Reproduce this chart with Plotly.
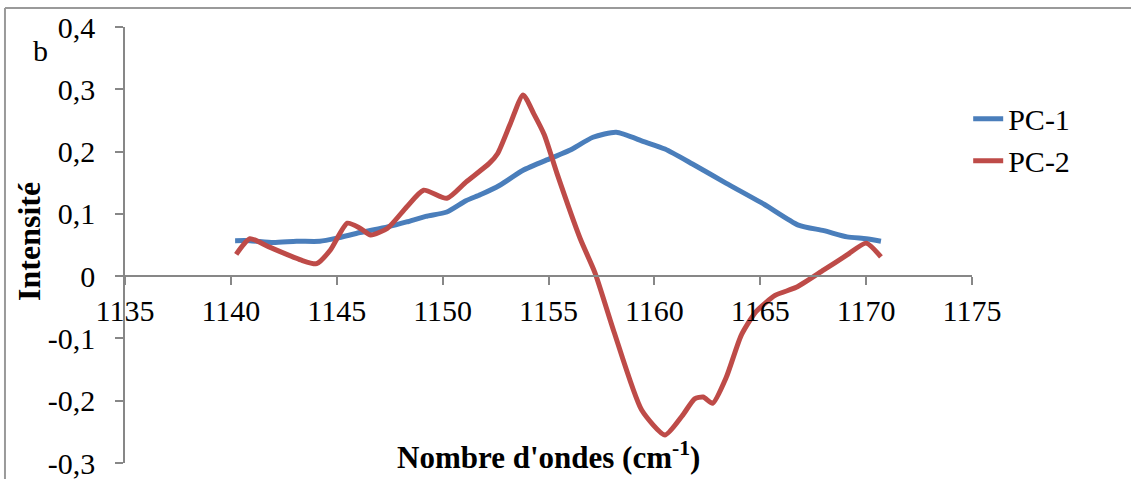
import plotly.graph_objects as go

# Wavenumber grid and loadings of the first two principal components
pc1_x = [1140.2, 1140.9, 1142.0, 1143.1, 1144.2, 1145.0, 1146.1, 1147.4, 1148.3,
         1149.2, 1150.2, 1151.1, 1151.8, 1152.7, 1153.8, 1155.1, 1156.0, 1157.1,
         1158.2, 1159.5, 1160.5, 1161.8, 1163.4, 1165.2, 1166.8, 1168.0, 1169.1,
         1170.0, 1170.7]
pc1_y = [0.057, 0.057, 0.054, 0.056, 0.056, 0.061, 0.070, 0.079, 0.087,
         0.096, 0.103, 0.121, 0.131, 0.146, 0.170, 0.189, 0.202, 0.223,
         0.231, 0.216, 0.204, 0.180, 0.149, 0.115, 0.082, 0.073, 0.063,
         0.060, 0.056]

pc2_x = [1140.25, 1140.9, 1141.8, 1143.3, 1144.05, 1144.7, 1145.5, 1146.1, 1146.6,
         1147.4, 1148.3, 1149.1, 1150.2, 1151.1, 1152.2, 1152.6, 1153.2, 1153.8,
         1154.3, 1154.8, 1155.4, 1156.5, 1157.2, 1158.1, 1159.4, 1160.5, 1161.3,
         1161.9, 1162.3, 1162.75, 1163.4, 1164.1, 1164.8, 1165.7, 1166.7, 1168.0,
         1169.1, 1170.0, 1170.7]
pc2_y = [0.035, 0.060, 0.047, 0.026, 0.020, 0.042, 0.085, 0.077, 0.066,
         0.077, 0.111, 0.138, 0.125, 0.151, 0.181, 0.197, 0.245, 0.291,
         0.261, 0.227, 0.165, 0.060, 0.005, -0.090, -0.215, -0.255, -0.225,
         -0.197, -0.194, -0.204, -0.162, -0.095, -0.057, -0.031, -0.018, 0.010,
         0.034, 0.053, 0.031]

series_names = ["PC-1", "PC-2"]
x_range = [1135, 1175]
y_range = [-0.3, 0.4]
y_tick_vals = [-0.3, -0.2, -0.1, 0, 0.1, 0.2, 0.3, 0.4]
y_tick_text = ["-0,3", "-0,2", "-0,1", "0", "0,1", "0,2", "0,3", "0,4"]

SERIF = "Liberation Serif, Times New Roman, serif"
AXIS_GREY = "#878787"

fig = go.Figure()
fig.add_trace(go.Scatter(x=pc1_x, y=pc1_y, name=series_names[0], mode="lines",
                         line=dict(color="#4A7EBB", width=5, shape="spline", smoothing=0.6)))
fig.add_trace(go.Scatter(x=pc2_x, y=pc2_y, name=series_names[1], mode="lines",
                         line=dict(color="#BE4B48", width=5, shape="spline", smoothing=0.6)))

# x axis crosses the y axis at zero
zero_pos = (0 - y_range[0]) / (y_range[1] - y_range[0])

fig.update_layout(
    width=1131, height=479,
    margin=dict(l=125, r=159, t=27, b=16),
    paper_bgcolor="white", plot_bgcolor="white",
    font=dict(family=SERIF, size=30, color="black"),
    showlegend=True,
    legend=dict(x=0.9955, y=0.7415, xanchor="left", yanchor="middle",
                bgcolor="rgba(0,0,0,0)", font=dict(size=30)),
    xaxis=dict(range=x_range, dtick=5, tick0=1135, anchor="free", position=zero_pos,
               showline=True, linecolor=AXIS_GREY, linewidth=1.5,
               ticks="outside", ticklen=8, tickwidth=1.5, tickcolor=AXIS_GREY,
               ticklabelstandoff=0, showgrid=False, zeroline=False, automargin=False,
               tickfont=dict(size=30)),
    yaxis=dict(range=y_range, tickvals=y_tick_vals, ticktext=y_tick_text,
               showline=True, linecolor=AXIS_GREY, linewidth=1.5,
               ticks="outside", ticklen=8, tickwidth=1.5, tickcolor=AXIS_GREY,
               ticklabelstandoff=14, ticklabeloverflow="allow", automargin=False,
               showgrid=False, zeroline=False, tickfont=dict(size=30)),
)

# Axis titles and panel letter
fig.add_annotation(text="<b>Nombre d'ondes (cm<sup>-1</sup>)</b>", xref="paper", yref="paper",
                   x=0.5, y=0.018, xanchor="center", yanchor="middle", showarrow=False,
                   font=dict(size=31))
fig.add_annotation(text="<b>Intensité</b>", xref="paper", yref="paper",
                   x=-0.114, y=0.508, xanchor="center", yanchor="middle", textangle=-90,
                   showarrow=False, font=dict(size=32))
fig.add_annotation(text="b", xref="paper", yref="paper", x=-0.100, y=0.947,
                   xanchor="center", yanchor="middle", showarrow=False, font=dict(size=30))

# Outer chart frame (top and left edges)
fig.add_shape(type="line", xref="paper", yref="paper", x0=-0.1417, x1=1.3, y0=1.0436, y1=1.0436,
              line=dict(color="#9a9a9a", width=2))
fig.add_shape(type="line", xref="paper", yref="paper", x0=-0.1417, x1=-0.1417, y0=1.0436, y1=-0.2,
              line=dict(color="#9a9a9a", width=2))

fig.write_html("out.html")
